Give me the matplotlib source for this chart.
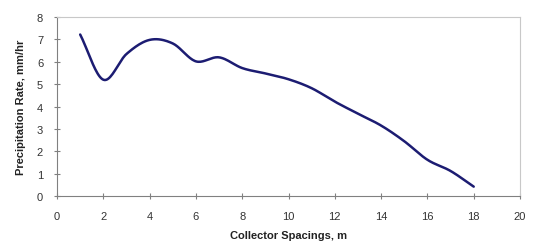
import numpy as np
import matplotlib.pyplot as plt

plt.rcParams['font.family'] = ['Liberation Sans', 'DejaVu Sans']

spacing = [1, 2, 3, 4, 5, 6, 7, 8, 9, 10, 11, 12, 13, 14, 15, 16, 17, 18]
rate = [7.22, 5.2, 6.35, 6.98, 6.82, 6.02, 6.2, 5.72, 5.48, 5.22, 4.82, 4.22, 3.68, 3.15, 2.45, 1.62, 1.12, 0.42]


def smooth(x, y, n=20):
    # catmull-rom style curve through the points, like a smoothed excel line
    x = np.asarray(x, float)
    y = np.asarray(y, float)
    px = np.concatenate([[2 * x[0] - x[1]], x, [2 * x[-1] - x[-2]]])
    py = np.concatenate([[2 * y[0] - y[1]], y, [2 * y[-1] - y[-2]]])
    xs, ys = [], []
    t = np.linspace(0, 1, n, endpoint=False)
    for i in range(1, len(px) - 2):
        for arr, out in ((px, xs), (py, ys)):
            p0, p1, p2, p3 = arr[i - 1:i + 3]
            out.extend(0.5 * ((2 * p1) + (-p0 + p2) * t
                              + (2 * p0 - 5 * p1 + 4 * p2 - p3) * t ** 2
                              + (-p0 + 3 * p1 - 3 * p2 + p3) * t ** 3))
    xs.append(x[-1])
    ys.append(y[-1])
    return xs, ys


fig = plt.figure(figsize=(5.39, 2.51), dpi=100)
ax = fig.add_axes([0.1058, 0.215, 0.859, 0.713])

sx, sy = smooth(spacing, rate)
ax.plot(sx, sy, color='#1c1c72', linewidth=1.8, solid_capstyle='round')

ax.set_xlim(0, 20)
ax.set_ylim(0, 8)
ax.set_xticks(range(0, 21, 2))
ax.set_yticks(range(0, 9))
ax.tick_params(direction='inout', length=4, width=0.8, colors='#808080',
               labelcolor='#333333', labelsize=8)
ax.tick_params(axis='x', pad=9)
ax.tick_params(axis='y', pad=8)
for s in ['left', 'bottom']:
    ax.spines[s].set_color('#808080')
for s in ['top', 'right']:
    ax.spines[s].set_color('#c8c8c8')

ax.set_xlabel('Collector Spacings, m', fontsize=8, fontweight='bold', color='#222222', labelpad=6)
ax.set_ylabel('Precipitation Rate, mm/hr', fontsize=8, fontweight='bold', color='#222222', labelpad=8)

fig.savefig('out.png', dpi=100)
